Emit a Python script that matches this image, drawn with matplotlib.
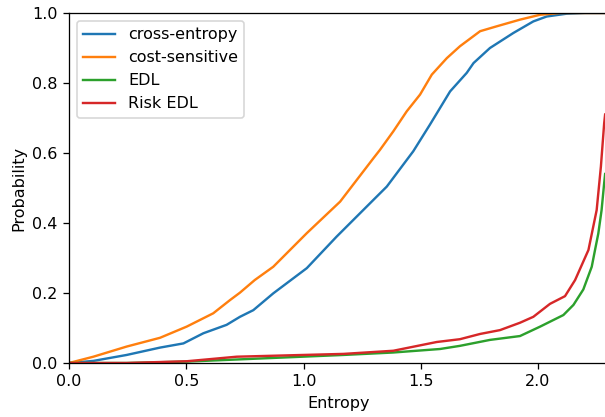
import numpy as np
import matplotlib
matplotlib.use("Agg")
import matplotlib.pyplot as plt

# entropy / cumulative probability pairs for each model
ce_entropy = [0, 0.104, 0.246, 0.388, 0.488, 0.573, 0.672, 0.729, 0.786, 0.871, 1.014,
              1.141, 1.298, 1.355, 1.383, 1.440, 1.468, 1.539, 1.625, 1.696, 1.725,
              1.795, 1.895, 1.980, 2.037, 2.122, 2.20, 2.3026]
ce_prob = [0, 0.006, 0.023, 0.044, 0.056, 0.085, 0.109, 0.132, 0.151, 0.199, 0.271,
           0.361, 0.466, 0.504, 0.529, 0.58, 0.605, 0.681, 0.776, 0.829, 0.857,
           0.9, 0.943, 0.976, 0.99, 0.998, 1.0, 1.0]

cs_entropy = [0, 0.104, 0.246, 0.388, 0.502, 0.615, 0.687, 0.729, 0.792, 0.871, 1.014,
              1.156, 1.298, 1.326, 1.383, 1.440, 1.497, 1.547, 1.611, 1.667, 1.753,
              1.824, 1.923, 2.009, 2.094, 2.3026]
cs_prob = [0, 0.018, 0.047, 0.072, 0.104, 0.142, 0.18, 0.201, 0.237, 0.275, 0.371,
           0.461, 0.585, 0.609, 0.662, 0.719, 0.767, 0.824, 0.871, 0.905, 0.948,
           0.962, 0.981, 0.995, 1.0, 1.0]

edl_entropy = [0, 0.246, 0.502, 0.715, 1.17, 1.383, 1.582, 1.667, 1.795, 1.923, 2.009,
               2.108, 2.151, 2.193, 2.229, 2.243, 2.257, 2.271, 2.282, 2.286]
edl_prob = [0, 0.0, 0.004, 0.01, 0.023, 0.03, 0.04, 0.049, 0.066, 0.077, 0.104,
            0.137, 0.166, 0.21, 0.275, 0.323, 0.37, 0.437, 0.514, 0.54]

risk_entropy = [0, 0.246, 0.502, 0.715, 1.17, 1.383, 1.568, 1.667, 1.753, 1.838, 1.923,
                1.980, 2.051, 2.115, 2.158, 2.215, 2.250, 2.268, 2.282, 2.286]
risk_prob = [0, 0.0, 0.005, 0.018, 0.026, 0.035, 0.06, 0.068, 0.083, 0.094, 0.115,
             0.132, 0.169, 0.191, 0.237, 0.323, 0.437, 0.561, 0.685, 0.71]

labels = ["cross-entropy", "cost-sensitive", "EDL", "Risk EDL"]

DPI = 115
fig = plt.figure(figsize=(605 / DPI, 417 / DPI), dpi=DPI)
# right spine sits just past the edge of the canvas
ax = fig.add_axes([69 / 605, 54 / 417, 540 / 605, 350 / 417])

ax.plot(ce_entropy, ce_prob, color="#1f77b4", lw=1.5, label=labels[0])
ax.plot(cs_entropy, cs_prob, color="#ff7f0e", lw=1.5, label=labels[1])
ax.plot(edl_entropy, edl_prob, color="#2ca02c", lw=1.5, label=labels[2])
ax.plot(risk_entropy, risk_prob, color="#d62728", lw=1.5, label=labels[3])

ax.set_xlim(0, np.log(10))
ax.set_ylim(0, 1.0)
ax.set_xticks([0.0, 0.5, 1.0, 1.5, 2.0])
ax.set_yticks([0.0, 0.2, 0.4, 0.6, 0.8, 1.0])
ax.set_xlabel("Entropy")
ax.set_ylabel("Probability")
ax.legend(loc="upper left")

fig.savefig("out.png", dpi=DPI)
